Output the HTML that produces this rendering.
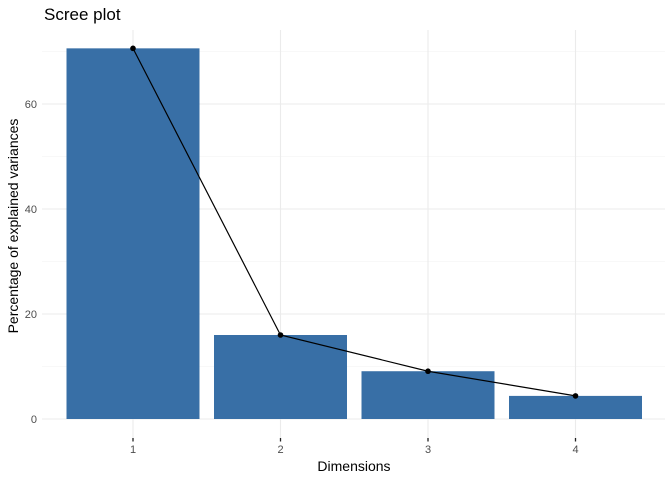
<!DOCTYPE html>
<html><head><meta charset="utf-8"><style>
body{margin:0;background:#fff;font-family:"Liberation Sans",sans-serif}
</style></head><body>
<svg id="chart" width="672" height="480" xmlns="http://www.w3.org/2000/svg"></svg>
<script>
const categories=["1","2","3","4"];
const variances=[70.6,16.0,9.1,4.4];
const yTicks=[0,20,40,60];
const yMinor=[10,30,50,70];
const svg=document.getElementById('chart');
const NS="http://www.w3.org/2000/svg";
const x0=133,step=147.5,bw=133;
const xs=i=>x0+i*step;
const ys=v=>419-v*5.25;
const pTop=30,pBot=440,pLeft=42,pRight=665;
function el(t,a,p){const e=document.createElementNS(NS,t);for(const k in a)e.setAttribute(k,a[k]);(p||svg).appendChild(e);return e;}
yMinor.forEach(v=>{const l=el('line',{x1:pLeft,x2:pRight,y1:ys(v),y2:ys(v),stroke:'#f2f2f2','stroke-width':0.6});

});
yTicks.forEach(v=>{const l=el('line',{x1:pLeft,x2:pRight,y1:ys(v),y2:ys(v),stroke:'#ebebeb','stroke-width':1.1});


const t=el('text',{x:37,y:ys(v)+4,'text-anchor':'end','font-size':11,fill:'#4d4d4d'});t.textContent=v;

});
categories.forEach((c,i)=>{const l=el('line',{x1:xs(i),x2:xs(i),y1:pTop,y2:pBot,stroke:'#ebebeb','stroke-width':1.1});


const tk=el('line',{x1:xs(i),x2:xs(i),y1:438,y2:441.5,stroke:'#222','stroke-width':1.3});


const t=el('text',{x:xs(i),y:453,'text-anchor':'middle','font-size':11,fill:'#4d4d4d'});t.textContent=c;

});
variances.forEach((v,i)=>{const r=el('rect',{x:xs(i)-bw/2,y:ys(v),width:bw,height:ys(0)-ys(v),fill:'#386fa6'});

});
const pl=el('polyline',{points:variances.map((v,i)=>xs(i)+','+ys(v)).join(' '),fill:'none',stroke:'#000','stroke-width':1.2});


variances.forEach((v,i)=>{const c=el('circle',{cx:xs(i),cy:ys(v),r:2.8,fill:'#000'});

});
const title=el('text',{x:44,y:20,'font-size':17,fill:'#000'});title.textContent='Scree plot';


const xt=el('text',{x:354,y:471,'text-anchor':'middle','font-size':14,fill:'#000'});xt.textContent='Dimensions';


const yt=el('text',{x:0,y:0,'text-anchor':'middle','font-size':14,fill:'#000',transform:'translate(18,226) rotate(-90)'});yt.textContent='Percentage of explained variances';


</script>
</body></html>
